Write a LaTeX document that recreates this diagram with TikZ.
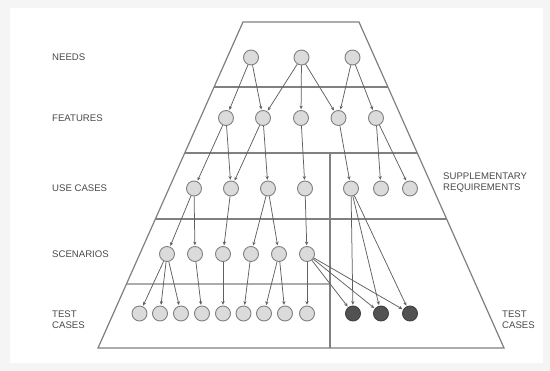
\documentclass[tikz,border=0pt]{standalone}
\usepackage{fontspec}
\setmainfont{Liberation Sans}
\usetikzlibrary{arrows.meta,calc}
\definecolor{lbl}{HTML}{4A4A4A}
\definecolor{frame}{HTML}{808080}
\definecolor{edgec}{HTML}{606060}
\begin{document}
\begin{tikzpicture}[x=1pt,y=-1pt,
  req/.style={circle,minimum size=15pt,inner sep=0pt,fill=gray!28,draw=frame,line width=0.9pt},
  tc/.style={circle,minimum size=15pt,inner sep=0pt,fill=black!68,draw=black!75,line width=0.9pt},
  lab/.style={font=\fontsize{9.6}{11}\selectfont,text=lbl,anchor=west,align=left,inner sep=0pt},
  frm/.style={draw=frame,line width=1.2pt},
  arr/.style={draw=edgec,line width=0.75pt,-{Stealth[length=3.6pt,width=3.3pt]},shorten >=0.8pt}]
\useasboundingbox (0,0) rectangle (550,371);
\fill[gray!8] (0,0) rectangle (550,371);
\fill[white] (10,8) rectangle (543,363);
% trapezoid
\coordinate (TL) at (243,22);
\coordinate (TR) at (359,22);
\coordinate (BL) at (98,348);
\coordinate (BR) at (504,348);
\draw[frm] (TL) -- (TR) -- (BR) -- (BL) -- cycle;
\coordinate (A1) at ($(TL)!0.1994!(BL)$);
\coordinate (A2) at ($(TR)!0.1994!(BR)$);
\coordinate (B1) at ($(TL)!0.4018!(BL)$);
\coordinate (B2) at ($(TR)!0.4018!(BR)$);
\coordinate (C1) at ($(TL)!0.6043!(BL)$);
\coordinate (C2) at ($(TR)!0.6043!(BR)$);
\coordinate (D1) at ($(TL)!0.8037!(BL)$);
\coordinate (VT) at (330,153);
\coordinate (VB) at (330,348);
\coordinate (VD) at (330,284);
\draw[frm] (A1) -- (A2);
\draw[frm] (B1) -- (B2);
\draw[frm] (C1) -- (C2);
\draw[frm] (D1) -- (VD);
\draw[frm] (VT) -- (VB);
% labels
\node[lab] (lneeds) at (52,57) {NEEDS};
\node[lab] (lfeat) at (52,118) {FEATURES};
\node[lab] (luse) at (52,188) {USE CASES};
\node[lab] (lscen) at (52,254) {SCENARIOS};
\node[lab] (ltest) at (52,320) {TEST\\CASES};
\node[lab] (lsupp) at (443,183) {SUPPLEMENTARY\\REQUIREMENTS};
\node[lab] (ltest2) at (502,320) {TEST\\CASES};
% needs
\node[req] (n1) at (251,57.5) {};
\node[req] (n2) at (301.5,57.5) {};
\node[req] (n3) at (352.5,57.5) {};
% features
\node[req] (f1) at (226,118) {};
\node[req] (f2) at (263,118) {};
\node[req] (f3) at (301,118) {};
\node[req] (f4) at (338.5,118) {};
\node[req] (f5) at (376,118) {};
% use cases
\node[req] (u1) at (194,188.5) {};
\node[req] (u2) at (231,188.5) {};
\node[req] (u3) at (268,188.5) {};
\node[req] (u4) at (305,188.5) {};
\node[req] (u5) at (351,188.5) {};
\node[req] (u6) at (381,188.5) {};
\node[req] (u7) at (410,188.5) {};
% scenarios
\node[req] (s1) at (167,254) {};
\node[req] (s2) at (195,254) {};
\node[req] (s3) at (223,254) {};
\node[req] (s4) at (251,254) {};
\node[req] (s5) at (279,254) {};
\node[req] (s6) at (307,254) {};
% test cases
\node[req] (t1) at (139.5,313.5) {};
\node[req] (t2) at (160,313.5) {};
\node[req] (t3) at (181,313.5) {};
\node[req] (t4) at (202,313.5) {};
\node[req] (t5) at (223,313.5) {};
\node[req] (t6) at (243.5,313.5) {};
\node[req] (t7) at (264,313.5) {};
\node[req] (t8) at (285,313.5) {};
\node[req] (t9) at (307,313.5) {};
\node[tc] (d1) at (353,313.5) {};
\node[tc] (d2) at (381,313.5) {};
\node[tc] (d3) at (410,313.5) {};
% needs -> features
\draw[arr] (n1) -- (f1);
\draw[arr] (n1) -- (f2);
\draw[arr] (n2) -- (f2);
\draw[arr] (n2) -- (f3);
\draw[arr] (n2) -- (f4);
\draw[arr] (n3) -- (f4);
\draw[arr] (n3) -- (f5);
% features -> use cases
\draw[arr] (f1) -- (u1);
\draw[arr] (f1) -- (u2);
\draw[arr] (f2) -- (u2);
\draw[arr] (f2) -- (u3);
\draw[arr] (f3) -- (u4);
\draw[arr] (f4) -- (u5);
\draw[arr] (f5) -- (u6);
\draw[arr] (f5) -- (u7);
% use cases -> scenarios
\draw[arr] (u1) -- (s1);
\draw[arr] (u1) -- (s2);
\draw[arr] (u2) -- (s3);
\draw[arr] (u3) -- (s4);
\draw[arr] (u3) -- (s5);
\draw[arr] (u4) -- (s6);
\draw[arr] (u5) -- (d1);
\draw[arr] (u5) -- (d2);
\draw[arr] (u5) -- (d3);
% scenarios -> test cases
\draw[arr] (s1) -- (t1);
\draw[arr] (s1) -- (t2);
\draw[arr] (s1) -- (t3);
\draw[arr] (s2) -- (t4);
\draw[arr] (s3) -- (t5);
\draw[arr] (s4) -- (t6);
\draw[arr] (s5) -- (t7);
\draw[arr] (s5) -- (t8);
\draw[arr] (s6) -- (t9);
\draw[arr] (s6) -- (d1);
\draw[arr] (s6) -- (d2);
\draw[arr] (s6) -- (d3);
\end{tikzpicture}
\end{document}
